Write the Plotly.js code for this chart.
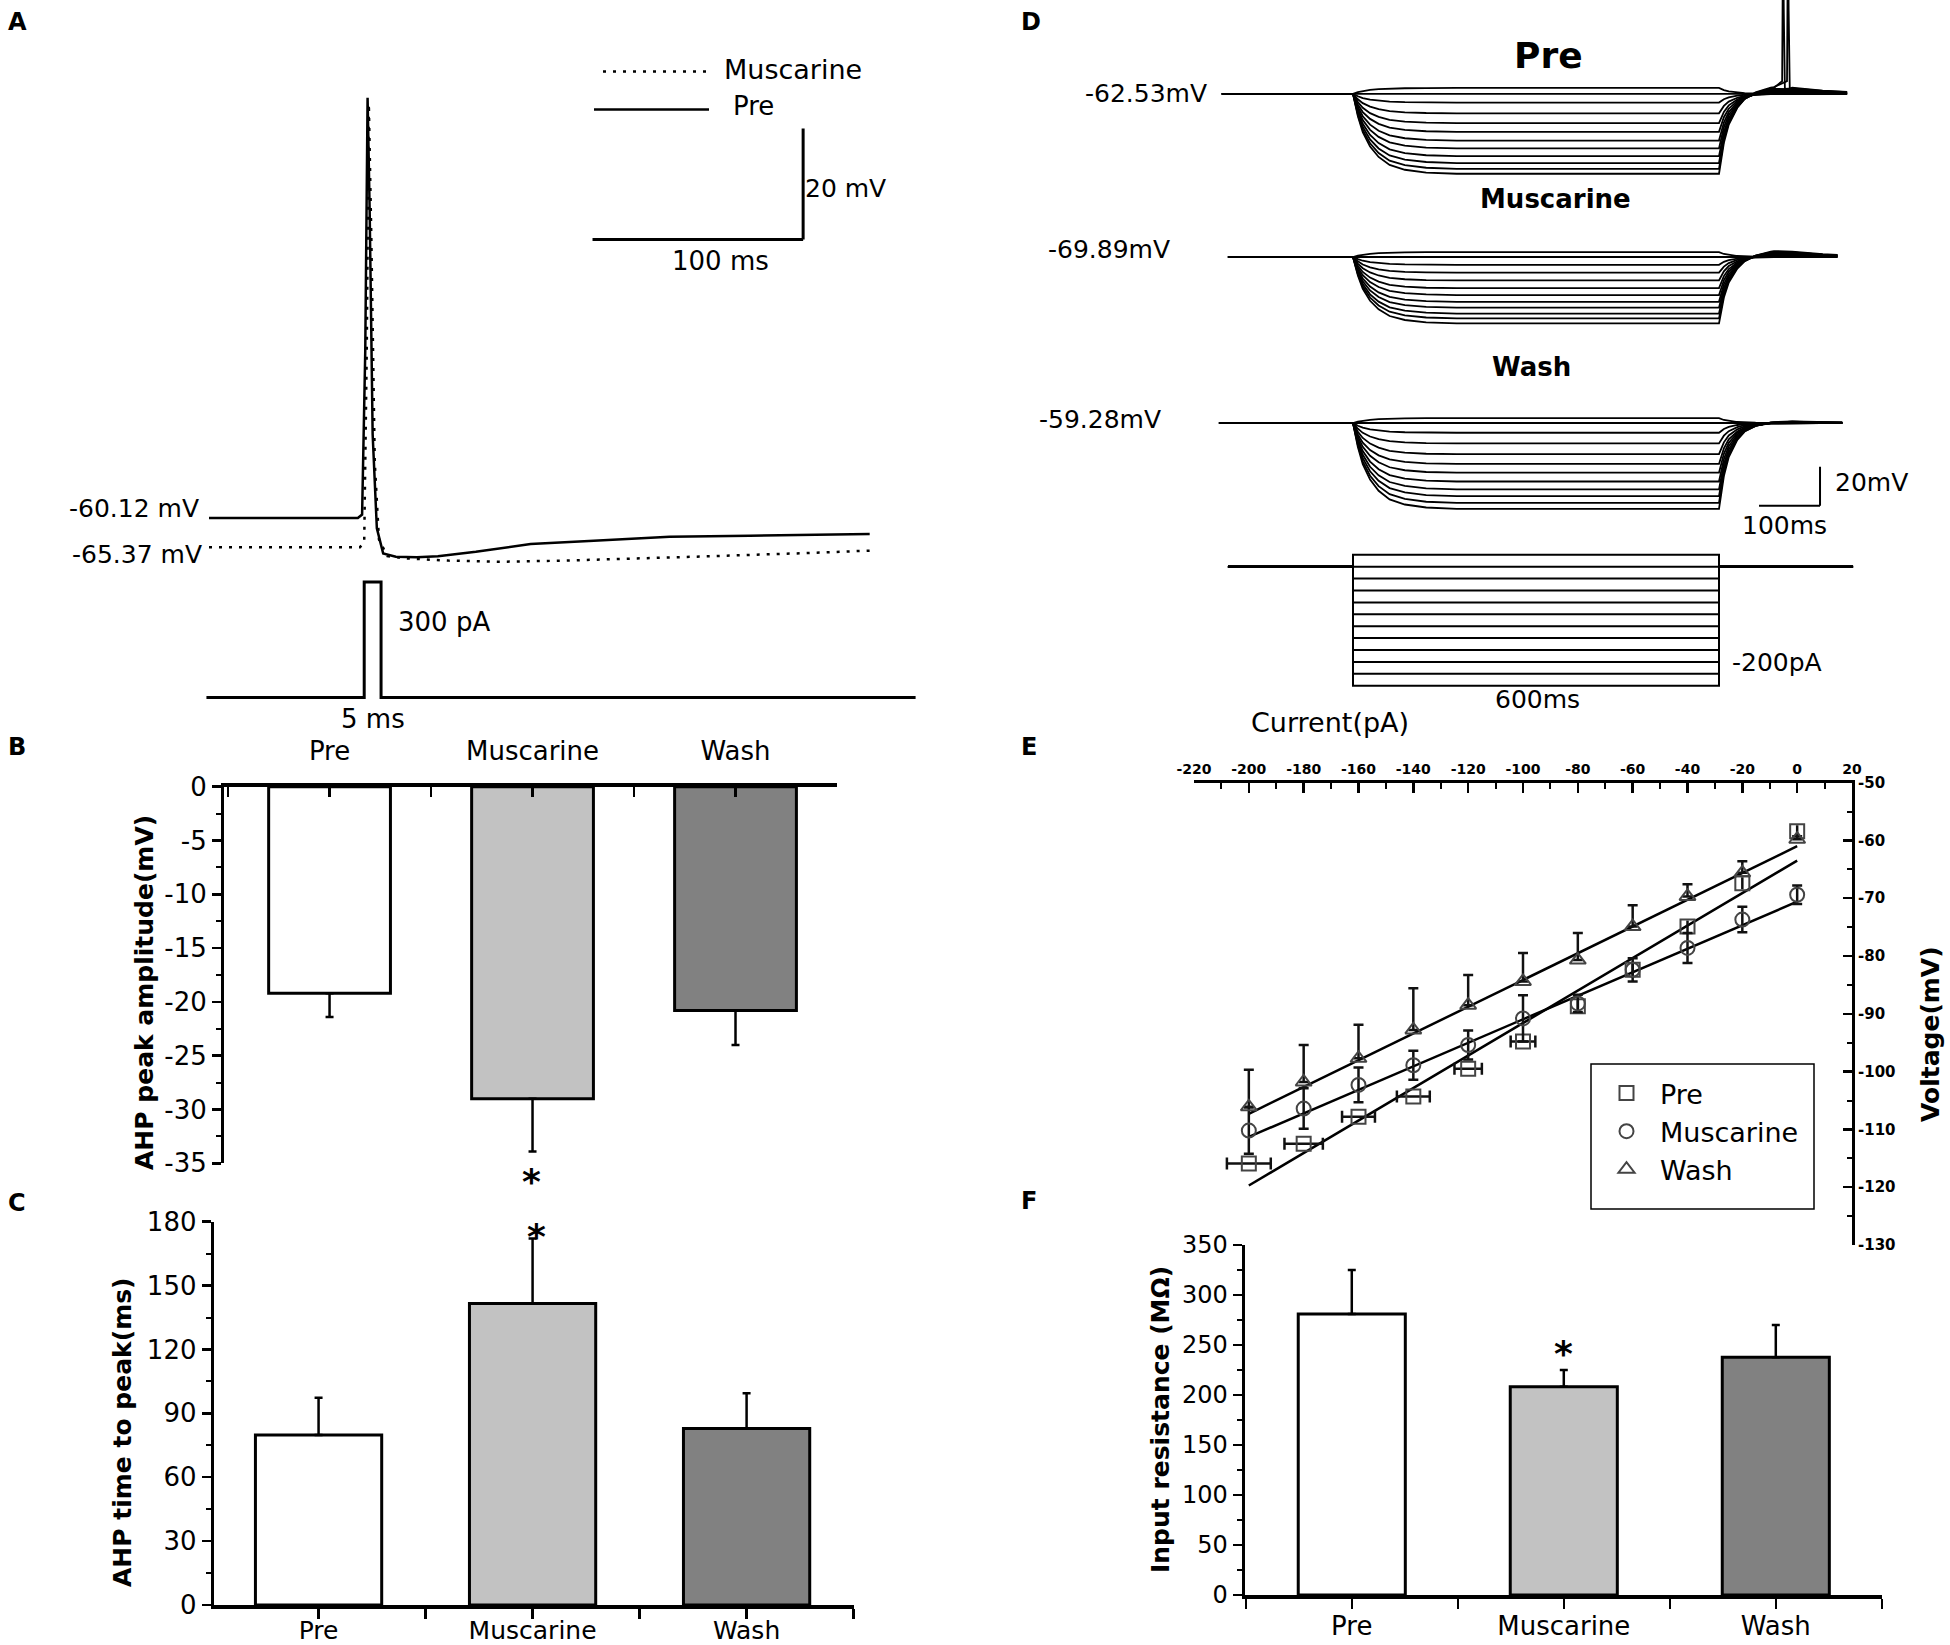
<!DOCTYPE html>
<html><head><meta charset="utf-8">
<script src="https://cdn.plot.ly/plotly-3.0.1.min.js"></script>
<style>html,body{margin:0;padding:0;background:#fff;} #chart{width:1950px;height:1645px;}</style>
</head><body><div id="chart"></div>
<script>
// ================= DATA =================
const conditions = ['Pre', 'Muscarine', 'Wash'];
const barColors = ['#ffffff', '#c2c2c2', '#818181'];

// Panel B: AHP peak amplitude (mV)
const ahpAmp = [-19.2, -29.0, -20.8];
const ahpAmpErr = [2.2, 4.9, 3.2];
// Panel C: AHP time to peak (ms)
const ahpTime = [79.8, 141.6, 82.9];
const ahpTimeErr = [17.5, 30.5, 16.5];
// Panel F: input resistance (MOhm)
const inputRes = [281, 208.3, 237.7];
const inputResErr = [44, 16.7, 32.3];

// Panel E: I-V relation
const ivCurrent = [-200, -180, -160, -140, -120, -100, -80, -60, -40, -20, 0];
const ivPre = [-115.9, -112.5, -107.8, -104.3, -99.5, -94.8, -88.7, -82.4, -74.9, -67.4, -58.4];
const ivPreErrX = [8, 7, 6, 6, 5, 4.5, 0, 0, 0, 0, 0];
const ivMus = [-110.2, -106.4, -102.3, -98.9, -95.4, -90.8, -88.2, -82.4, -78.6, -73.7, -69.4];
const ivMusErr = [4, 3.5, 3, 2.5, 2.5, 4, 1.5, 2, 2.6, 2.2, 1.6];
const ivWash = [-106.1, -101.8, -97.7, -92.8, -88.5, -84.4, -80.7, -74.9, -69.7, -65.6, -59.8];
const ivWashErr = [6.4, 6.4, 5.8, 7.2, 5.2, 4.9, 4.7, 3.7, 2.1, 2.0, 0.5];
const fitCurrent = [-200, 0];
const fitPre = [-119.7, -63.5];
const fitMus = [-111.3, -70.6];
const fitWash = [-107.3, -61.0];
const eXTicks = [-220, -200, -180, -160, -140, -120, -100, -80, -60, -40, -20, 0, 20];
const eYTicks = [-130, -120, -110, -100, -90, -80, -70, -60, -50];

// Panel A: single action potential traces (ms, mV) and stimulus (ms, pA)
const aPreRest = -60.12, aMusRest = -65.37;
const aPreT = [1.3, 72, 74, 75.5, 76.6, 77.6, 79, 81, 84, 90, 100, 110, 128, 154, 184, 220, 258, 315];
const aPreV = [-60.12, -60.12, -59.5, -30, 15.6, -5, -45, -62, -66.5, -67.1, -67.2, -67.0, -66.2, -64.8, -64.2, -63.5, -63.3, -63.0];
const aMusT = [1.3, 73, 75, 76.2, 77.2, 78.4, 80, 82, 86, 95, 115, 140, 170, 200, 240, 280, 315];
const aMusV = [-65.37, -65.37, -64.5, -30, 14.5, -10, -50, -64, -67, -67.4, -67.8, -68.0, -67.8, -67.4, -67.0, -66.5, -66.0];
const aStimT = [0, 75, 75, 83, 83, 337];
const aStimI = [0, 0, 300, 300, 0, 0];
const aScaleMs = 100, aScaleMv = 20;

// Panel D: hyperpolarising step families
const dSteps = [20, 0, -20, -40, -60, -80, -100, -120, -140, -160, -180, -200];
const dStepDur = 600;
const dPreRest = -62.53, dMusRest = -69.89, dWashRest = -59.28;
const dPreDefl = [3, 0, -4.5, -10, -15, -19.5, -24, -28, -32, -35.5, -38.5, -41];
const dMusDefl = [2.5, 0, -4, -8, -12, -16, -19.5, -23, -26, -29, -31.5, -34];
const dWashDefl = [2.5, 0, -5, -10.5, -16, -21, -25.5, -30, -34, -37.5, -41, -44];
const dPreReb = [0, 0, 0, 0, 0.5, 1, 1.5, 2, 2.5, 3, 3.5, 4];
const dMusReb = [0, 0, 0, 0.5, 1, 1.5, 2, 2.5, 2.5, 3, 3, 3.5];
const dWashReb = [0, 0, 0, 0, 0, 0, 0.3, 0.5, 0.5, 0.8, 0.8, 1];
const dPreSpikes = {10: 705, 11: 713};
const spikeShapeT = [-1.5, 0, 1.2, 3];
const spikeShapeV = [-56, 25, -20, -60];
const onT = [0, 8, 16, 28, 42, 60, 85, 120, 170, 600];
const onF = [0, 0.28, 0.48, 0.66, 0.79, 0.89, 0.95, 0.985, 1, 1];
const offT = [0, 8, 16, 28, 42, 60, 85, 120, 170];
const offF = [1, 0.62, 0.4, 0.22, 0.11, 0.05, 0.015, 0, 0];
const rebT = [0, 30, 60, 90, 120, 160, 220];
const rebF = [0, 0.3, 0.7, 1, 0.8, 0.45, 0.2];
const dScaleMs = 100, dScaleMv = 20;

// ================= LAYOUT HELPERS =================
const W = 1950, H = 1645;
const FONT = 'DejaVu Sans, Verdana, sans-serif';
const px = p => p / W;
const py = p => 1 - p / H;
const xdom = (l, r) => [px(l), px(r)];
const ydom = (t, b) => [py(b), py(t)];
const idx = conditions.map((_, i) => i);

function interp(xs, ys, x) {
  if (x <= xs[0]) return ys[0];
  for (let i = 1; i < xs.length; i++) {
    if (x <= xs[i]) { const f = (x - xs[i-1]) / (xs[i] - xs[i-1]); return ys[i-1] + f * (ys[i] - ys[i-1]); }
  }
  return ys[ys.length - 1];
}
function buildStep(rest, defl, reb, tStart, tEnd, spikeAt) {
  const pts = [[tStart, rest]];
  onT.forEach((tt, i) => pts.push([tt, rest + defl * onF[i]]));
  const vAfter = d => rest + defl * interp(offT, offF, d) + reb * interp(rebT, rebF, d);
  const after = [...new Set([...offT, ...rebT])].filter(d => d > 0).sort((a, b) => a - b);
  after.forEach(d => { if (dStepDur + d < tEnd) pts.push([dStepDur + d, vAfter(d)]); });
  pts.push([tEnd, vAfter(tEnd - dStepDur)]);
  if (spikeAt !== undefined) spikeShapeT.forEach((dt, i) => pts.push([spikeAt + dt, spikeShapeV[i]]));
  pts.sort((a, b) => a[0] - b[0]);
  return {x: pts.map(p => p[0]), y: pts.map(p => p[1])};
}

const traces = [];
// ---- Panel A ----
traces.push({x: aPreT, y: aPreV, xaxis: 'x', yaxis: 'y', mode: 'lines', line: {color: '#000', width: 2.5}, showlegend: false, hoverinfo: 'skip'});
traces.push({x: aMusT, y: aMusV, xaxis: 'x', yaxis: 'y', mode: 'lines', line: {color: '#000', width: 2.5, dash: '3px,7px'}, showlegend: false, hoverinfo: 'skip'});
traces.push({x: aStimT, y: aStimI, xaxis: 'x', yaxis: 'y2', mode: 'lines', line: {color: '#000', width: 3}, showlegend: false, hoverinfo: 'skip'});

// ---- Panel D ----
const dFam = [
  {rest: dPreRest, defl: dPreDefl, reb: dPreReb, ya: 'y3', t0: -215, t1: 810, spikes: dPreSpikes},
  {rest: dMusRest, defl: dMusDefl, reb: dMusReb, ya: 'y4', t0: -205, t1: 794, spikes: {}},
  {rest: dWashRest, defl: dWashDefl, reb: dWashReb, ya: 'y5', t0: -220, t1: 802, spikes: {}}
];
dFam.forEach(f => {
  dSteps.forEach((s, i) => {
    const tr = buildStep(f.rest, f.defl[i], f.reb[i], f.t0, f.t1, f.spikes[i]);
    traces.push({x: tr.x, y: tr.y, xaxis: 'x2', yaxis: f.ya, mode: 'lines', line: {color: '#000', width: 1.8}, showlegend: false, hoverinfo: 'skip'});
  });
});
dSteps.forEach(s => {
  traces.push({x: [-205, 0, 0, dStepDur, dStepDur, 820], y: [0, 0, s, s, 0, 0], xaxis: 'x2', yaxis: 'y6', mode: 'lines', line: {color: '#000', width: 2}, showlegend: false, hoverinfo: 'skip'});
});

// ---- Panel E ----
const fitStyle = {color: '#000', width: 2.5};
traces.push({x: fitCurrent, y: fitPre, xaxis: 'x3', yaxis: 'y7', mode: 'lines', line: fitStyle, showlegend: false, hoverinfo: 'skip'});
traces.push({x: fitCurrent, y: fitMus, xaxis: 'x3', yaxis: 'y7', mode: 'lines', line: fitStyle, showlegend: false, hoverinfo: 'skip'});
traces.push({x: fitCurrent, y: fitWash, xaxis: 'x3', yaxis: 'y7', mode: 'lines', line: fitStyle, showlegend: false, hoverinfo: 'skip'});
const mk = sym => ({symbol: sym, size: 14, color: '#444', line: {color: '#444', width: 2}});
traces.push({name: 'Pre', x: ivCurrent, y: ivPre, xaxis: 'x3', yaxis: 'y7', mode: 'markers', marker: mk('square-open'),
  error_x: {type: 'data', array: ivPreErrX, color: '#111', thickness: 2.5, width: 6}, cliponaxis: false});
traces.push({name: 'Muscarine', x: ivCurrent, y: ivMus, xaxis: 'x3', yaxis: 'y7', mode: 'markers', marker: mk('circle-open'),
  error_y: {type: 'data', array: ivMusErr, color: '#111', thickness: 2.5, width: 5}, cliponaxis: false});
traces.push({name: 'Wash', x: ivCurrent, y: ivWash, xaxis: 'x3', yaxis: 'y7', mode: 'markers', marker: mk('triangle-up-open'),
  error_y: {type: 'data', symmetric: false, array: ivWashErr, arrayminus: ivWashErr.map(() => 0), color: '#111', thickness: 2.5, width: 5}, cliponaxis: false});

// ---- Bars B, C, F ----
function barTrace(vals, errs, xa, ya, width, neg) {
  const ey = neg ? {type: 'data', symmetric: false, array: errs.map(() => 0), arrayminus: errs}
                 : {type: 'data', symmetric: false, array: errs, arrayminus: errs.map(() => 0)};
  Object.assign(ey, {color: '#000', thickness: 2.5, width: 4});
  return {type: 'bar', x: idx, y: vals, width: width, xaxis: xa, yaxis: ya,
    marker: {color: barColors, line: {color: '#000', width: 3}}, error_y: ey, showlegend: false, hoverinfo: 'skip'};
}
traces.push(barTrace(ahpAmp, ahpAmpErr, 'x4', 'y8', 0.6, true));
traces.push(barTrace(ahpTime, ahpTimeErr, 'x5', 'y9', 0.59, false));
traces.push(barTrace(inputRes, inputResErr, 'x6', 'y10', 0.505, false));

// ================= AXES =================
const hidden = {visible: false, fixedrange: true};
const tickFont = {family: FONT, size: 26, color: '#000'};
function valAxis(dom, rng, vals, minorStep, anchor, extra) {
  return Object.assign({domain: dom, range: rng, anchor: anchor, tickmode: 'array', tickvals: vals, ticktext: vals.map(v => String(v)),
    ticks: 'outside', ticklen: 9, tickwidth: 2.5, tickcolor: '#000',
    minor: {ticks: 'outside', ticklen: 5, tickwidth: 2, tickcolor: '#000', dtick: minorStep, tick0: 0},
    showline: true, linewidth: 3, linecolor: '#000', showgrid: false, zeroline: false, tickfont: tickFont, fixedrange: true}, extra || {});
}
function catAxis(dom, rng, anchor, side, tickdir, standoff, fsize) {
  return {domain: dom, range: rng, anchor: anchor, side: side, tickmode: 'array', tickvals: idx, ticktext: conditions,
    ticks: tickdir, ticklen: 10, tickwidth: 2.5, tickcolor: '#000',
    minor: {ticks: tickdir, ticklen: 10, tickwidth: 2.5, tickcolor: '#000', dtick: 0.5, tick0: 0.5},
    showline: true, linewidth: 3.5, linecolor: '#000', showgrid: false, zeroline: false,
    tickfont: {family: FONT, size: fsize || 26, color: '#000'}, ticklabelstandoff: standoff, fixedrange: true};
}

const layout = {
  width: W, height: H, margin: {l: 0, r: 0, t: 0, b: 0}, paper_bgcolor: '#fff', plot_bgcolor: 'rgba(0,0,0,0)',
  font: {family: FONT, color: '#000'}, showlegend: true, bargap: 0,
  // A
  xaxis: Object.assign({domain: xdom(206.25, 915.6), range: [0, 336.8], anchor: 'y'}, hidden),
  yaxis: Object.assign({domain: ydom(55, 600), range: [-60.12 - (600 - 518) / 5.55, -60.12 + (518 - 55) / 5.55], anchor: 'x'}, hidden),
  yaxis2: Object.assign({domain: ydom(555, 712), range: [-(712 - 697.6) / 0.385, (697.6 - 555) / 0.385], anchor: 'x'}, hidden),
  // D
  xaxis2: Object.assign({domain: xdom(1218.8, 1853.2), range: [-220, 820], anchor: 'y3'}, hidden),
  yaxis3: Object.assign({domain: ydom(0, 200), range: [-62.53 - 106.2 / 1.95, -62.53 + 93.8 / 1.95], anchor: 'x2'}, hidden),
  yaxis4: Object.assign({domain: ydom(200, 362), range: [-69.89 - 105 / 1.95, -69.89 + 57 / 1.95], anchor: 'x2'}, hidden),
  yaxis5: Object.assign({domain: ydom(362, 545), range: [-59.28 - 122 / 1.95, -59.28 + 61 / 1.95], anchor: 'x2'}, hidden),
  yaxis6: Object.assign({domain: ydom(545, 700), range: [-(700 - 566.7) / 0.595, (566.7 - 545) / 0.595], anchor: 'x2'}, hidden),
  // E
  xaxis3: {domain: xdom(1194, 1852), range: [-220, 20], anchor: 'y7', side: 'top', tickmode: 'array', tickvals: eXTicks, ticktext: eXTicks.map(String),
    ticks: 'inside', ticklen: 10, tickwidth: 2.5, tickcolor: '#000', minor: {ticks: 'inside', ticklen: 6, tickwidth: 2, dtick: 10, tick0: 0, tickcolor: '#000'},
    showline: true, linewidth: 3, linecolor: '#000', showgrid: false, zeroline: false,
    tickfont: {family: FONT, size: 14, weight: 'bold', color: '#000'}, fixedrange: true},
  yaxis7: {domain: ydom(782.6, 1245), range: [-130, -50], anchor: 'x3', side: 'right', tickmode: 'array', tickvals: eYTicks, ticktext: eYTicks.map(String),
    ticks: 'inside', ticklen: 9, tickwidth: 2.5, tickcolor: '#000', minor: {ticks: 'inside', ticklen: 5, tickwidth: 2, dtick: 5, tick0: 0, tickcolor: '#000'},
    showline: true, linewidth: 3, linecolor: '#000', showgrid: false, zeroline: false,
    tickfont: {family: FONT, size: 15, weight: 'bold', color: '#000'}, fixedrange: true},
  // B
  xaxis4: catAxis(xdom(224, 837), [-0.52, 2.5], 'y8', 'top', 'inside', 13),
  yaxis8: valAxis(ydom(786.7, 1163.3), [-35, 0], [-35, -30, -25, -20, -15, -10, -5, 0], 2.5, 'x4'),
  // C
  xaxis5: catAxis(xdom(213.7, 853.6), [-0.49, 2.5], 'y9', 'bottom', 'outside', -10, 25),
  yaxis9: valAxis(ydom(1221.7, 1605), [0, 180], [0, 30, 60, 90, 120, 150, 180], 15, 'x5'),
  // F
  xaxis6: catAxis(xdom(1244.5, 1881.8), [-0.506, 2.5], 'y10', 'bottom', 'outside', -5),
  yaxis10: valAxis(ydom(1245, 1595), [0, 350], [0, 50, 100, 150, 200, 250, 300, 350], 25, 'x6', {tickfont: {family: FONT, size: 24, color: '#000'}}),
  legend: {x: px(1593), y: py(1069), xanchor: 'left', yanchor: 'top', bgcolor: 'rgba(0,0,0,0)', borderwidth: 0, itemwidth: 57,
    font: {family: FONT, size: 27, color: '#000'}, tracegroupgap: 0, itemclick: false, itemdoubleclick: false},
  shapes: [], annotations: []
};

// shapes
const S = layout.shapes;
// A legend samples
S.push({type: 'line', xref: 'paper', yref: 'paper', x0: px(603), x1: px(706), y0: py(71.4), y1: py(71.4), line: {color: '#000', width: 2.5, dash: '3px,7px'}});
S.push({type: 'line', xref: 'paper', yref: 'paper', x0: px(594), x1: px(709), y0: py(109.5), y1: py(109.5), line: {color: '#000', width: 2.5}});
// A scale bar (data coordinates)
const aBarX = 283.4, aBarY = -9.94;
S.push({type: 'line', xref: 'x', yref: 'y', x0: aBarX, x1: aBarX, y0: aBarY, y1: aBarY + aScaleMv, line: {color: '#000', width: 3}});
S.push({type: 'line', xref: 'x', yref: 'y', x0: aBarX - aScaleMs, x1: aBarX, y0: aBarY, y1: aBarY, line: {color: '#000', width: 3}});
// D scale bar (wash axis coordinates)
const dBarX = 765.6, dBarY = -101.7;
S.push({type: 'line', xref: 'x2', yref: 'y5', x0: dBarX, x1: dBarX, y0: dBarY, y1: dBarY + dScaleMv, line: {color: '#000', width: 2}});
S.push({type: 'line', xref: 'x2', yref: 'y5', x0: dBarX - dScaleMs, x1: dBarX, y0: dBarY, y1: dBarY, line: {color: '#000', width: 2}});
// E legend box
S.push({type: 'rect', xref: 'paper', yref: 'paper', x0: px(1591), x1: px(1814), y0: py(1209), y1: py(1064), line: {color: '#000', width: 1.5}, fillcolor: 'rgba(0,0,0,0)'});

// annotations
const A = layout.annotations;
function txt(text, x, y, opt) {
  opt = opt || {};
  A.push({text: text, xref: 'paper', yref: 'paper', x: px(x), y: py(y), xanchor: opt.xa || 'left', yanchor: 'middle', showarrow: false,
    textangle: opt.rot || 0, font: {family: FONT, size: opt.size || 26, color: '#000', weight: opt.bold ? 'bold' : 'normal'}});
}
// panel letters
txt('A', 6, 22, {size: 24, bold: true}); txt('B', 6, 747, {size: 24, bold: true}); txt('C', 6, 1203, {size: 24, bold: true});
txt('D', 1019, 22, {size: 24, bold: true}); txt('E', 1019, 747, {size: 24, bold: true}); txt('F', 1019, 1201, {size: 24, bold: true});
// A texts
txt('Muscarine', 722, 69, {size: 27}); txt('Pre', 731, 106, {size: 26});
txt('20 mV', 803, 188, {size: 25}); txt('100 ms', 720, 261, {size: 26, xa: 'center'});
txt(aPreRest.toFixed(2) + ' mV', 201, 508, {size: 25, xa: 'right'}); txt(aMusRest.toFixed(2) + ' mV', 204, 555, {size: 25, xa: 'right'});
txt(aStimI[2] + ' pA', 396, 622, {size: 26}); txt('5 ms', 373, 719, {size: 26, xa: 'center'});
// D texts
txt('Pre', 1548, 55, {size: 36, bold: true, xa: 'center'});
txt('Muscarine', 1555, 199, {size: 26, bold: true, xa: 'center'});
txt('Wash', 1531, 367, {size: 26, bold: true, xa: 'center'});
txt(dPreRest.toFixed(2) + 'mV', 1209, 93, {size: 25, xa: 'right'});
txt(dMusRest.toFixed(2) + 'mV', 1172, 250, {size: 25, xa: 'right'});
txt(dWashRest.toFixed(2) + 'mV', 1163, 419, {size: 25, xa: 'right'});
txt('20mV', 1833, 483, {size: 25}); txt('100ms', 1740, 525, {size: 25});
txt(dSteps[dSteps.length - 1] + 'pA', 1730, 662, {size: 25}); txt(dStepDur + 'ms', 1537, 700, {size: 25, xa: 'center'});
// E titles
txt('Current(pA)', 1249, 722, {size: 27});
txt('Voltage(mV)', 1930, 1034, {size: 25, bold: true, rot: -90, xa: 'center'});
// bar panel titles
txt('AHP peak amplitude(mV)', 144, 993, {size: 25, bold: true, rot: -90, xa: 'center'});
txt('AHP time to peak(ms)', 122, 1432, {size: 25, bold: true, rot: -90, xa: 'center'});
txt('Input resistance (M\u03A9)', 1160, 1420, {size: 25, bold: true, rot: -90, xa: 'center'});
// significance stars
txt('*', 531, 1181, {size: 36, bold: true, xa: 'center'});
txt('*', 536, 1236, {size: 36, bold: true, xa: 'center'});
txt('*', 1563, 1353, {size: 36, bold: true, xa: 'center'});

Plotly.newPlot('chart', traces, layout, {staticPlot: true, displayModeBar: false});
</script>
</body></html>
